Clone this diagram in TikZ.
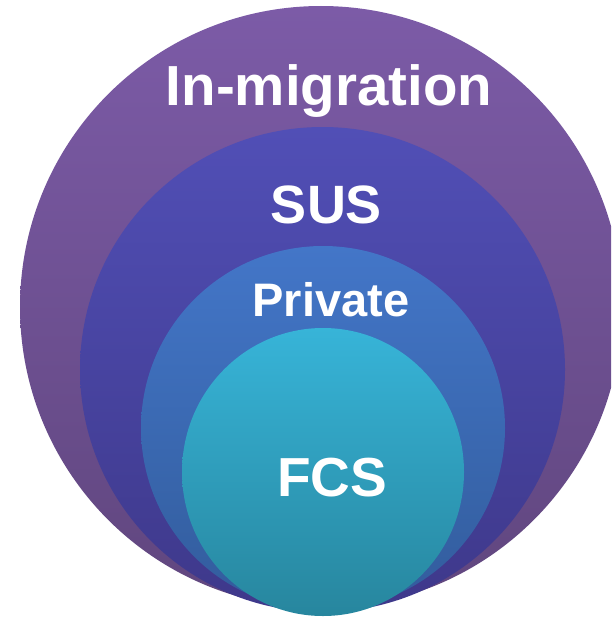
\documentclass[tikz,border=0pt]{standalone}
\usepackage{fontspec}
\setmainfont{Liberation Sans}
\begin{document}
\begin{tikzpicture}[x=1pt,y=-1pt,
  lbl/.style={text=white, anchor=base, inner sep=0pt, font=\bfseries}]
\useasboundingbox (0,0) rectangle (611,618);
\begin{scope}
\clip (0,0) rectangle (611,618);
\shade[top color={rgb,255:red,124;green,91;blue,167}, bottom color={rgb,255:red,96;green,70;blue,126}] (321,307) circle (301);
\shade[top color={rgb,255:red,81;green,79;blue,182}, bottom color={rgb,255:red,62;green,56;blue,138}] (322.5,369.5) circle (242.5);
\shade[top color={rgb,255:red,67;green,118;blue,200}, bottom color={rgb,255:red,50;green,92;blue,156}] (323,428) circle (182);
\shade[top color={rgb,255:red,55;green,180;blue,216}, bottom color={rgb,255:red,39;green,134;blue,158}] (323,472) ellipse (141 and 144);
\end{scope}
\node[lbl, font=\bfseries\fontsize{56.5}{60}\selectfont] (inm) at (329,105) {In-migration};
\node[lbl, font=\bfseries\fontsize{54}{60}\selectfont] (sus) at (326.5,223) {SUS};
\node[lbl, font=\bfseries\fontsize{47}{50}\selectfont] (priv) at (331,316.5) {Private};
\node[lbl, font=\bfseries\fontsize{55}{60}\selectfont] (fcs) at (332,496) {FCS};
\end{tikzpicture}
\end{document}
